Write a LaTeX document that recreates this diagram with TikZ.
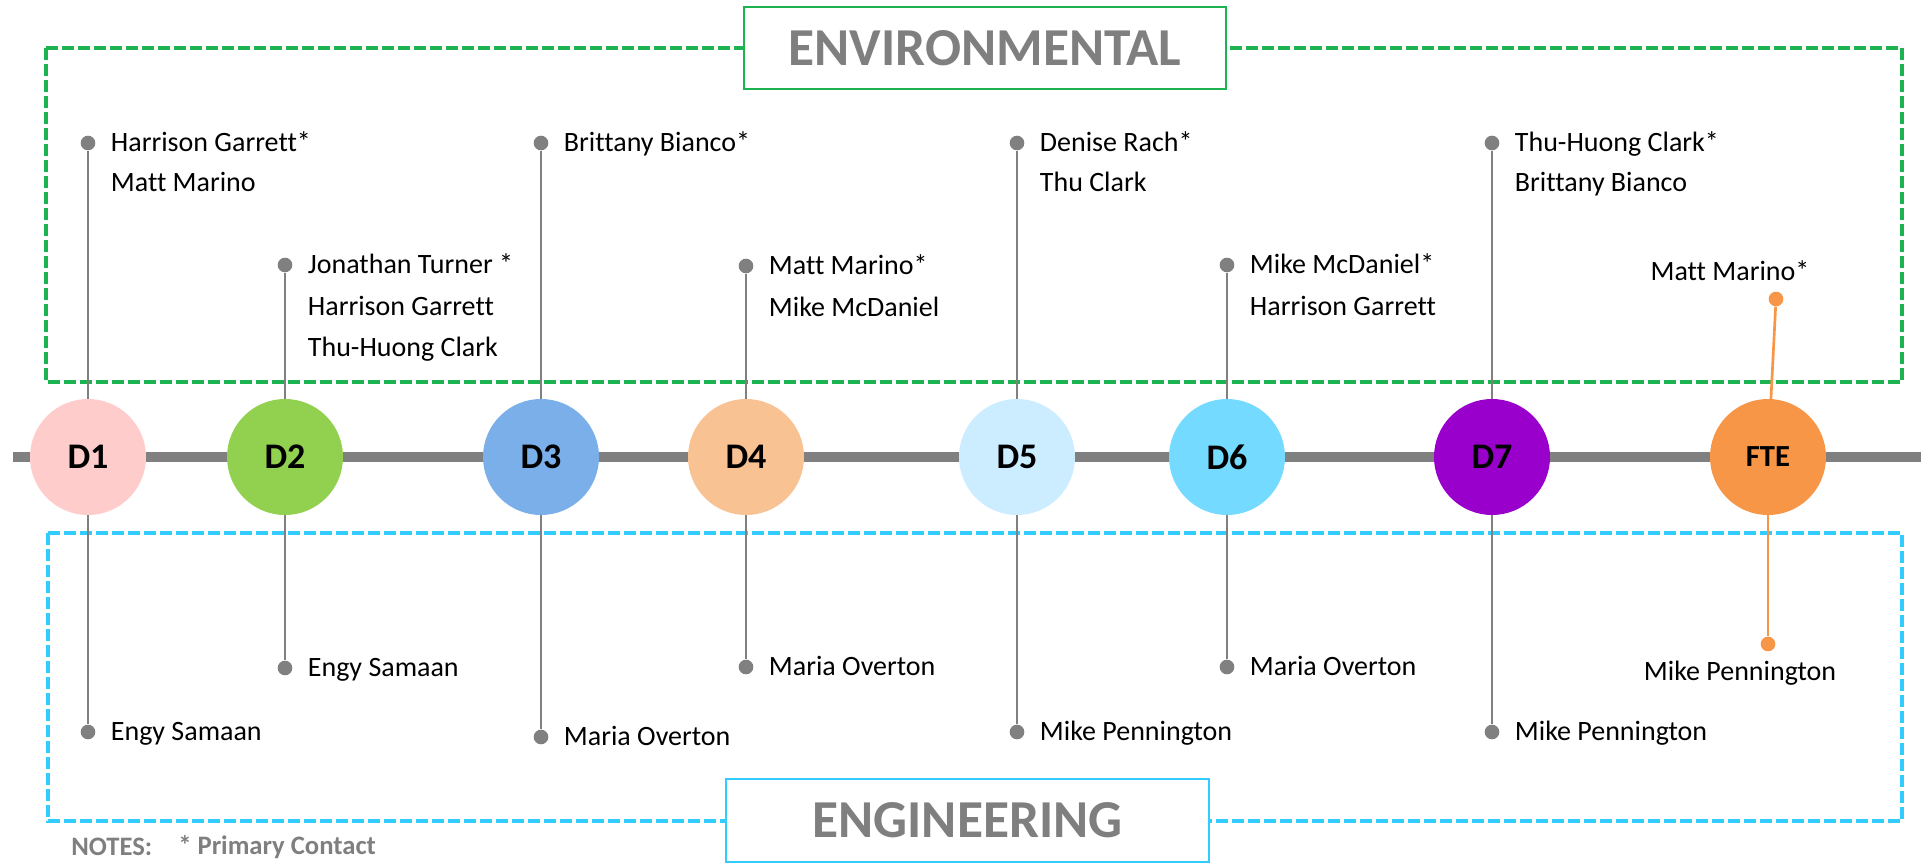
\documentclass[tikz,border=0pt]{standalone}
\usepackage{fontspec}
\setmainfont{Carlito}[Ligatures = NoCommon]
\usetikzlibrary{positioning}
\definecolor{lineGray}{HTML}{808080}
\definecolor{headGray}{HTML}{7F7F7F}
\definecolor{envGreen}{HTML}{1DB350}
\definecolor{engBlue}{HTML}{33CCFF}
\definecolor{cDone}{HTML}{FFCCCC}
\definecolor{cDtwo}{HTML}{92D050}
\definecolor{cDthree}{HTML}{7BAFEA}
\definecolor{cDfour}{HTML}{F9C293}
\definecolor{cDfive}{HTML}{CCECFF}
\definecolor{cDsix}{HTML}{75DAFF}
\definecolor{cDseven}{HTML}{9900CC}
\definecolor{cFte}{HTML}{F79646}
\tikzset{stage/.style = {circle, inner sep = 0, minimum size = 87pt, font = \bfseries\fontsize{27}{27}\selectfont}}
\tikzset{dot/.style = {circle, fill = lineGray, inner sep = 0, minimum size = 11pt}}
\tikzset{stem/.style = {lineGray, line width = 2pt}}
\tikzset{who/.style = {anchor = west, inner sep = 0, text height = 13.3pt, text depth = 0pt, font = \fontsize{21}{25}\selectfont}}
\tikzset{head/.style = {fill = white, line width = 1.5pt, minimum width = 362pt, minimum height = 62pt, text = headGray, font = \bfseries\fontsize{40}{40}\selectfont}}
\tikzset{group/.style = {line width = 3pt, dash pattern = on 9pt off 3pt}}
\tikzset{note/.style = {anchor = west, inner sep = 0, text = headGray, font = \bfseries\fontsize{20}{20}\selectfont}}

\begin{document}
\begin{tikzpicture}[x = 0.75pt, y = -0.75pt]
        \useasboundingbox (0,0) rectangle (1921,863);
        \draw [group, envGreen] (46,48) rectangle (1902,382);
        \draw [group, engBlue] (48,533) rectangle (1902,821);
        \node [head, draw = envGreen] (env) at (985,48) {ENVIRONMENTAL};
        \node [head, draw = engBlue] (eng) at (967.5,820.5) {ENGINEERING};
        \coordinate (tl0) at (13,457);
        \coordinate (tl1) at (1921,457);
        \draw [lineGray, line width = 8pt] (tl0) -- (tl1);
        \foreach \n/\x/\c/\t in {d1/88/cDone/D1, d2/285/cDtwo/D2, d3/541/cDthree/D3, d4/746/cDfour/D4, d5/1017/cDfive/D5, d6/1227/cDsix/D6, d7/1492/cDseven/D7}
            \node [stage, fill = \c] (\n) at (\x,457) {\t};
        \node [stage, fill = cFte, font = \bfseries\fontsize{23}{23}\selectfont] (fte) at (1768,457) {FTE};
        \foreach \n/\x/\yt/\yb in {d1/88/143/732, d2/285/265/668, d3/541/143/737, d4/746/266/667, d5/1017/143/732, d6/1227/265/667, d7/1492/143/732} {
            \node [dot] (\n t) at (\x,\yt) {};
            \node [dot] (\n b) at (\x,\yb) {};
            \draw [stem] (\n) -- (\n t);
            \draw [stem] (\n) -- (\n b);
        }
        \node [dot, fill = cFte] (ftet) at (1776,299) {};
        \node [dot, fill = cFte] (fteb) at (1768,644) {};
        \draw [cFte, line width = 2pt] (fte) -- (ftet);
        \draw [cFte, line width = 2pt] (fte) -- (fteb);
        \node [who] (d1t1) at ([xshift = 17pt]d1t.center) {Harrison Garrett*};
        \node [who] (d1t2) at ([yshift = -30pt]d1t1.west) {Matt Marino};
        \node [who] (d1b1) at ([xshift = 17pt]d1b.center) {Engy Samaan};
        \node [who] (d2t1) at ([xshift = 17pt]d2t.center) {Jonathan Turner *};
        \node [who] (d2t2) at ([yshift = -31pt]d2t1.west) {Harrison Garrett};
        \node [who] (d2t3) at ([yshift = -31pt]d2t2.west) {Thu-Huong Clark};
        \node [who] (d2b1) at ([xshift = 17pt]d2b.center) {Engy Samaan};
        \node [who] (d3t1) at ([xshift = 17pt]d3t.center) {Brittany Bianco*};
        \node [who] (d3b1) at ([xshift = 17pt]d3b.center) {Maria Overton};
        \node [who] (d4t1) at ([xshift = 17pt]d4t.center) {Matt Marino*};
        \node [who] (d4t2) at ([yshift = -31pt]d4t1.west) {Mike McDaniel};
        \node [who] (d4b1) at ([xshift = 17pt]d4b.center) {Maria Overton};
        \node [who] (d5t1) at ([xshift = 17pt]d5t.center) {Denise Rach*};
        \node [who] (d5t2) at ([yshift = -30pt]d5t1.west) {Thu Clark};
        \node [who] (d5b1) at ([xshift = 17pt]d5b.center) {Mike Pennington};
        \node [who] (d6t1) at ([xshift = 17pt]d6t.center) {Mike McDaniel*};
        \node [who] (d6t2) at ([yshift = -31pt]d6t1.west) {Harrison Garrett};
        \node [who] (d6b1) at ([xshift = 17pt]d6b.center) {Maria Overton};
        \node [who] (d7t1) at ([xshift = 17pt]d7t.center) {Thu-Huong Clark*};
        \node [who] (d7t2) at ([yshift = -30pt]d7t1.west) {Brittany Bianco};
        \node [who] (d7b1) at ([xshift = 17pt]d7b.center) {Mike Pennington};
        \node [who, anchor = center] (ftet1) at (1730,272) {Matt Marino*};
        \node [who, anchor = center] (fteb1) at (1740,672) {Mike Pennington};
        \node [note] (notes) at (71,847) {NOTES:};
        \node [note] (primary) at (178,847) {* Primary Contact};
    \end{tikzpicture}
\end{document}
